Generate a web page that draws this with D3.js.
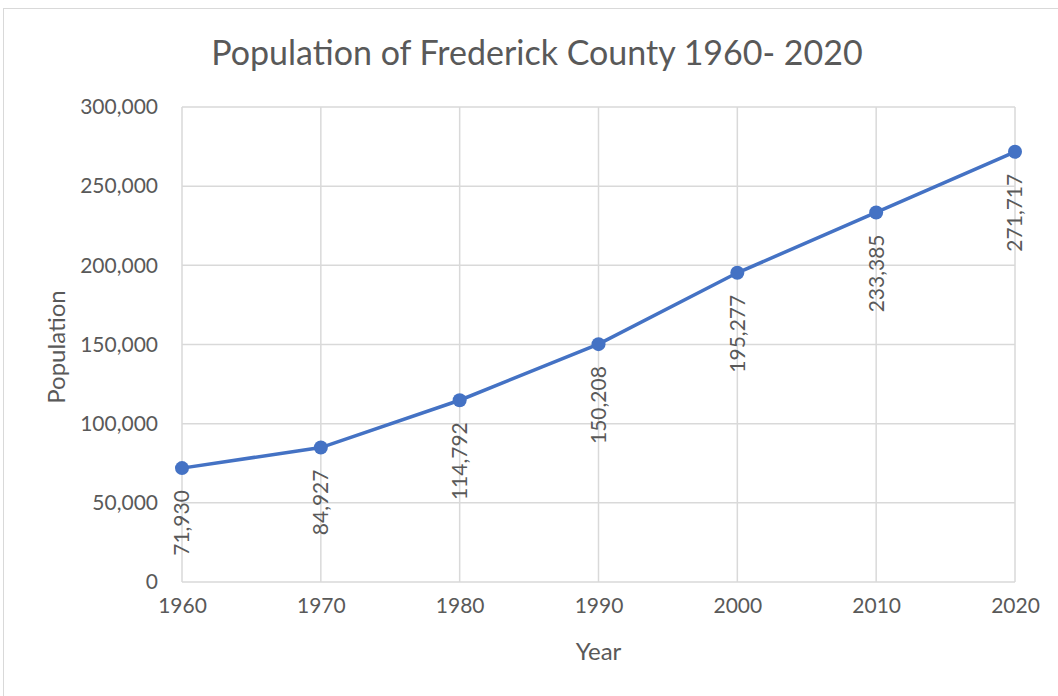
<!DOCTYPE html>
<html>
<head>
<meta charset="utf-8">
<script src="https://cdn.jsdelivr.net/npm/d3@7"></script>
<style>
  body { margin: 0; background: #fff; }
  text { font-family: Lato, "Open Sans", sans-serif; fill: #595959; }
</style>
</head>
<body>
<svg id="chart" width="1058" height="696"></svg>
<script>
// data
var years = [1960, 1970, 1980, 1990, 2000, 2010, 2020];
var population = [71930, 84927, 114792, 150208, 195277, 233385, 271717];
var yTicks = [0, 50000, 100000, 150000, 200000, 250000, 300000];

var svg = d3.select("#chart"),
    width = 1058,
    height = 696;

var plotLeft = 182, plotRight = 1015, plotTop = 107, plotBottom = 582;

// chart border
svg.append("rect")
  .attr("x", 3.5).attr("y", 8.5)
  .attr("width", width + 10).attr("height", height + 10)
  .attr("fill", "#fff")
  .attr("stroke", "#d9d9d9");

var xScale = d3.scalePoint().domain(years).range([plotLeft, plotRight]),
    yScale = d3.scaleLinear().domain([0, 300000]).range([plotBottom, plotTop]);

var fmt = d3.format(",");

// gridlines
svg.append("g")
  .selectAll("line")
  .data(yTicks)
  .enter().append("line")
  .attr("x1", plotLeft).attr("x2", plotRight)
  .attr("y1", function(d) { return yScale(d); })
  .attr("y2", function(d) { return yScale(d); })
  .attr("stroke", "#d9d9d9").attr("stroke-width", 1.5);

svg.append("g")
  .selectAll("line")
  .data(years)
  .enter().append("line")
  .attr("x1", function(d) { return xScale(d); })
  .attr("x2", function(d) { return xScale(d); })
  .attr("y1", plotTop).attr("y2", plotBottom)
  .attr("stroke", "#d9d9d9").attr("stroke-width", 1.5);

// axes
var yAxis = svg.append("g")
  .attr("transform", "translate(" + plotLeft + ",0)")
  .call(d3.axisLeft(yScale).tickValues(yTicks).tickFormat(fmt).tickSize(0).tickPadding(24));
yAxis.select(".domain").remove();
yAxis.selectAll("text").style("font-size", "21px").attr("fill", "#595959").style("font-family", "Lato");

var xAxis = svg.append("g")
  .attr("transform", "translate(0," + plotBottom + ")")
  .call(d3.axisBottom(xScale).tickSize(0).tickPadding(16));
xAxis.select(".domain").remove();
xAxis.selectAll("text").style("font-size", "21px").attr("fill", "#595959").style("font-family", "Lato");

// title and axis titles
svg.append("text")
  .attr("x", 537).attr("y", 65)
  .attr("text-anchor", "middle")
  .style("font-size", "34px")
  .text("Population of Frederick County 1960- 2020");

svg.append("text")
  .attr("x", (plotLeft + plotRight) / 2).attr("y", 660)
  .attr("text-anchor", "middle")
  .style("font-size", "24px")
  .text("Year");

svg.append("text")
  .attr("transform", "translate(65,347) rotate(-90)")
  .attr("text-anchor", "middle")
  .style("font-size", "24px")
  .text("Population");

// line and markers
var line = d3.line()
  .x(function(d, i) { return xScale(years[i]); })
  .y(function(d) { return yScale(d); });

svg.append("path")
  .datum(population)
  .attr("d", line)
  .attr("fill", "none")
  .attr("stroke", "#4472C4")
  .attr("stroke-width", 3.5);

svg.selectAll("circle.pt")
  .data(population)
  .enter().append("circle")
  .attr("class", "pt")
  .attr("cx", function(d, i) { return xScale(years[i]); })
  .attr("cy", function(d) { return yScale(d); })
  .attr("r", 7)
  .attr("fill", "#4472C4");

// data labels
svg.selectAll("text.lbl")
  .data(population)
  .enter().append("text")
  .attr("class", "lbl")
  .attr("transform", function(d, i) {
    return "translate(" + xScale(years[i]) + "," + (yScale(d) + 22) + ") rotate(-90)";
  })
  .attr("text-anchor", "end")
  .attr("dy", "0.35em")
  .style("font-size", "21px")
  .text(function(d) { return fmt(d); });
</script>
</body>
</html>
